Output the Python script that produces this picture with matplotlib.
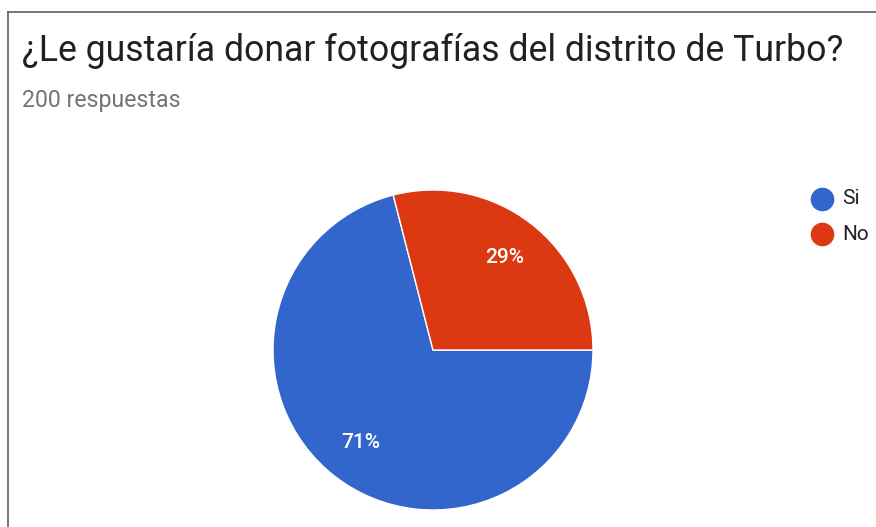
import matplotlib
matplotlib.use("Agg")
import matplotlib.pyplot as plt
from matplotlib.lines import Line2D

plt.rcParams.update({"font.family": ["Roboto", "DejaVu Sans"]})

# survey answers (200 responses)
labels = ["Si", "No"]
counts = [142, 58]
colors = ["#3366cc", "#dc3912"]
title = "¿Le gustaría donar fotografías del distrito de Turbo?"
subtitle = "200 respuestas"

W, H = 876, 527
fig = plt.figure(figsize=(W / 100, H / 100), dpi=100)
ax = fig.add_axes([0, 0, 1, 1])

ax.pie(counts, colors=colors, startangle=0, counterclock=False,
       center=(433, H - 350), radius=160, frame=True,
       autopct="%1.0f%%", pctdistance=0.735,
       wedgeprops={"edgecolor": "white", "linewidth": 1},
       textprops={"color": "white", "fontsize": 15, "fontweight": "medium"})
ax.set_xlim(0, W)
ax.set_ylim(0, H)
ax.axis("off")

# card border (top and left edges visible)
ax.add_line(Line2D([8, W], [H - 12, H - 12], color="#5f5f5f", lw=1.2))
ax.add_line(Line2D([8, 8], [0, H - 12], color="#5f5f5f", lw=1.2))

ax.text(22, H - 61, title, fontsize=25.7, color="#202124", va="baseline")
ax.text(22, H - 107, subtitle, fontsize=16.7, color="#757575", va="baseline")

for i, (lab, c) in enumerate(zip(labels, colors)):
    y = H - 199 - 35 * i
    ax.plot(822, y, "o", ms=16, color=c)
    ax.text(842, y, lab, fontsize=15, color="#222222", va="center")

fig.savefig("out.png", dpi=100)
